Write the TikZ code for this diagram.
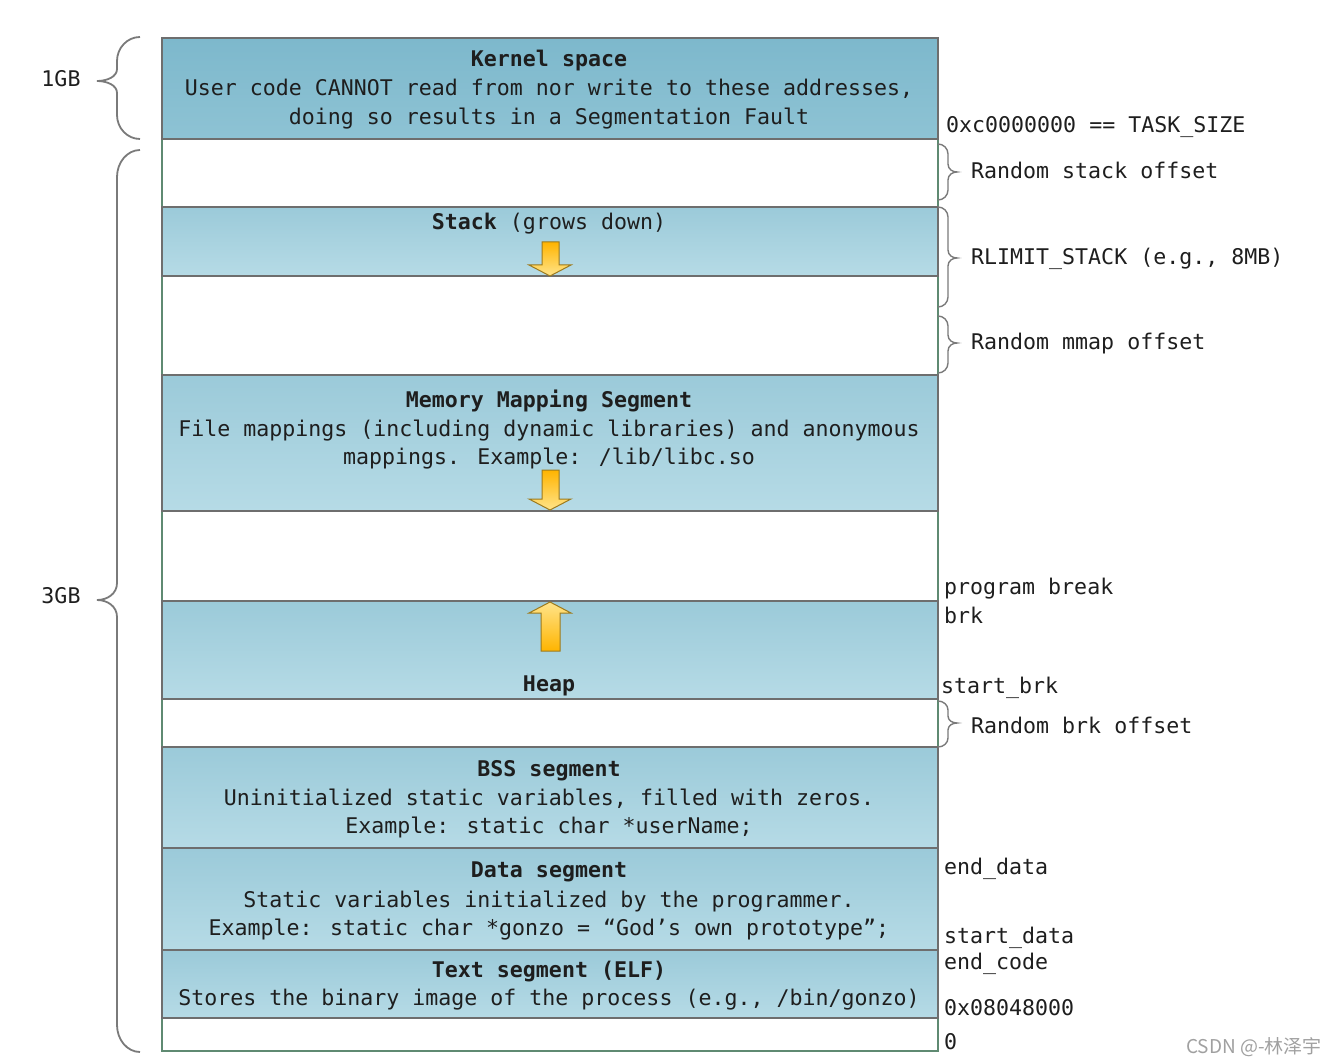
\documentclass[tikz,border=0pt]{standalone}
\usepackage{fontspec}
\newfontfamily\mono{DejaVu Sans Mono}
\newfontfamily\cjk{Noto Sans CJK SC}
\definecolor{segedge}{HTML}{6E6E6E}
\definecolor{outeredge}{HTML}{5F8A72}
\definecolor{kerntop}{HTML}{7DB8CC}
\definecolor{kernbot}{HTML}{8EC3D4}
\definecolor{segtop}{HTML}{9BCAD9}
\definecolor{segbot}{HTML}{B6DBE6}
\definecolor{txt}{HTML}{1E1E1E}
\definecolor{bracecol}{HTML}{7A7A7A}
\definecolor{arrdark}{HTML}{FFB400}
\definecolor{arrlight}{HTML}{FFE48A}
\definecolor{arredge}{HTML}{9C7A1E}
\definecolor{wm}{HTML}{A0A0A0}
\tikzset{
  seg/.style={rectangle, draw=segedge, line width=1.6pt, inner sep=0pt,
    minimum width=776pt, top color=segtop, bottom color=segbot},
  kseg/.style={seg, top color=kerntop, bottom color=kernbot},
  lbl/.style={inner sep=0pt, anchor=base, text=txt,
    font=\mono\fontsize{21.6}{26}\selectfont},
  rlbl/.style={lbl, anchor=base west},
  bracesty/.style={draw=bracecol, line width=1.8pt},
  rbracesty/.style={draw=bracecol, line width=1.4pt},
  darr/.style={draw=arredge, line width=1pt, top color=arrdark, bottom color=arrlight},
  uarr/.style={draw=arredge, line width=1pt, top color=arrlight, bottom color=arrdark},
}
% xe xm xt yt yc yb r s style
\newcommand\mybrace[9]{%
  \draw[#9] (#1,#4) .. controls ({#2+(#1-#2)*0.45},#4) and (#2,{#4+#7*0.45}) .. (#2,{#4+#7})
    -- (#2,{#5-#8}) .. controls (#2,{#5-#8*0.35}) and ({#3+(#2-#3)*0.5},#5) .. (#3,#5)
    .. controls ({#3+(#2-#3)*0.5},#5) and (#2,{#5+#8*0.35}) .. (#2,{#5+#8})
    -- (#2,{#6-#7}) .. controls (#2,{#6-#7*0.45}) and ({#2+(#1-#2)*0.45},#6) .. (#1,#6);}
\begin{document}
\begin{tikzpicture}[x=1pt,y=-1pt]
\useasboundingbox (0,0) rectangle (1337,1064);
% outer column
\node[rectangle, draw=outeredge, line width=1.6pt, fill=white, inner sep=0pt,
  minimum width=776pt, minimum height=1013pt] (column) at (550,544.5) {};
% segments
\node[kseg, minimum height=101pt] (kernel) at (550,88.5) {};
\node[seg, minimum height=69pt] (stack) at (550,241.5) {};
\node[seg, minimum height=136pt] (mmap) at (550,443) {};
\node[seg, minimum height=98pt] (heap) at (550,650) {};
\node[seg, minimum height=101pt] (bss) at (550,797.5) {};
\node[seg, minimum height=102pt] (data) at (550,899) {};
\node[seg, minimum height=68pt] (text) at (550,984) {};
% arrows
\draw[darr] (542,242) -- (559,242) -- (559,265) -- (571,265) -- (550,276) -- (529,265) -- (542,265) -- cycle;
\draw[darr] (542,470) -- (559,470) -- (559,499) -- (571,499) -- (550,510) -- (529,499) -- (542,499) -- cycle;
\draw[uarr] (541,651) -- (560,651) -- (560,613) -- (571,613) -- (550,602) -- (529,613) -- (541,613) -- cycle;
% segment texts
\node[lbl] (k1) at (549,67) {\bfseries Kernel space};
\node[lbl] (k2) at (549,96) {User code CANNOT read from nor write to these addresses,};
\node[lbl] (k3) at (549,125) {doing so results in a Segmentation Fault};
\node[lbl] (s1) at (549,230) {{\bfseries Stack} (grows down)};
\node[lbl] (m1) at (549,407) {\bfseries Memory Mapping Segment};
\node[lbl] (m2) at (549,436) {File mappings (including dynamic libraries) and anonymous};
\node[lbl] (m3) at (549,464) {mappings. Example: /lib/libc.so};
\node[lbl] (h1) at (549,691) {\bfseries Heap};
\node[lbl] (b1) at (549,776) {\bfseries BSS segment};
\node[lbl] (b2) at (549,805) {Uninitialized static variables, filled with zeros.};
\node[lbl] (b3) at (549,833) {Example: static char *userName;};
\node[lbl] (d1) at (549,877) {\bfseries Data segment};
\node[lbl] (d2) at (549,907) {Static variables initialized by the programmer.};
\node[lbl] (d3) at (549,935) {Example: static char *gonzo = “God’s own prototype”;};
\node[lbl] (t1) at (549,977) {\bfseries Text segment (ELF)};
\node[lbl] (t2) at (549,1005) {Stores the binary image of the process (e.g., /bin/gonzo)};
% left braces
\mybrace{140}{117}{97}{37}{81}{139}{24}{12}{bracesty}
\mybrace{140}{117}{97}{150}{600}{1052}{27}{17}{bracesty}
\node[lbl] (gb1) at (61,87) {1GB};
\node[lbl] (gb3) at (61,603) {3GB};
% right braces
\mybrace{938}{948}{957}{144}{172}{200}{10}{8}{rbracesty}
\mybrace{938}{948}{957}{207}{258}{307}{10}{8}{rbracesty}
\mybrace{938}{948}{957}{316}{343}{373}{10}{8}{rbracesty}
\mybrace{938}{948}{957}{701}{723}{747}{9}{7}{rbracesty}
% right labels
\node[rlbl] (task) at (946,132.5) {0xc0000000 == TASK\_SIZE};
\node[rlbl] (rso) at (971,179) {Random stack offset};
\node[rlbl] (rlim) at (971,265) {RLIMIT\_STACK (e.g., 8MB)};
\node[rlbl] (rmo) at (971,349) {Random mmap offset};
\node[rlbl] (pb) at (944,594) {program break};
\node[rlbl] (brk) at (944,623) {brk};
\node[rlbl] (sbrk) at (941,693) {start\_brk};
\node[rlbl] (rbo) at (971,733) {Random brk offset};
\node[rlbl] (ed) at (944,874) {end\_data};
\node[rlbl] (sd) at (944,943) {start\_data};
\node[rlbl] (ec) at (944,969) {end\_code};
\node[rlbl] (addr) at (944,1015) {0x08048000};
\node[rlbl] (zero) at (944,1049) {0};
% watermark
\node[inner sep=0pt, anchor=base east, text=wm, font=\cjk\fontsize{19}{22}\selectfont] (wmark) at (1322,1053) {CSDN @-林泽宇};
\end{tikzpicture}
\end{document}
